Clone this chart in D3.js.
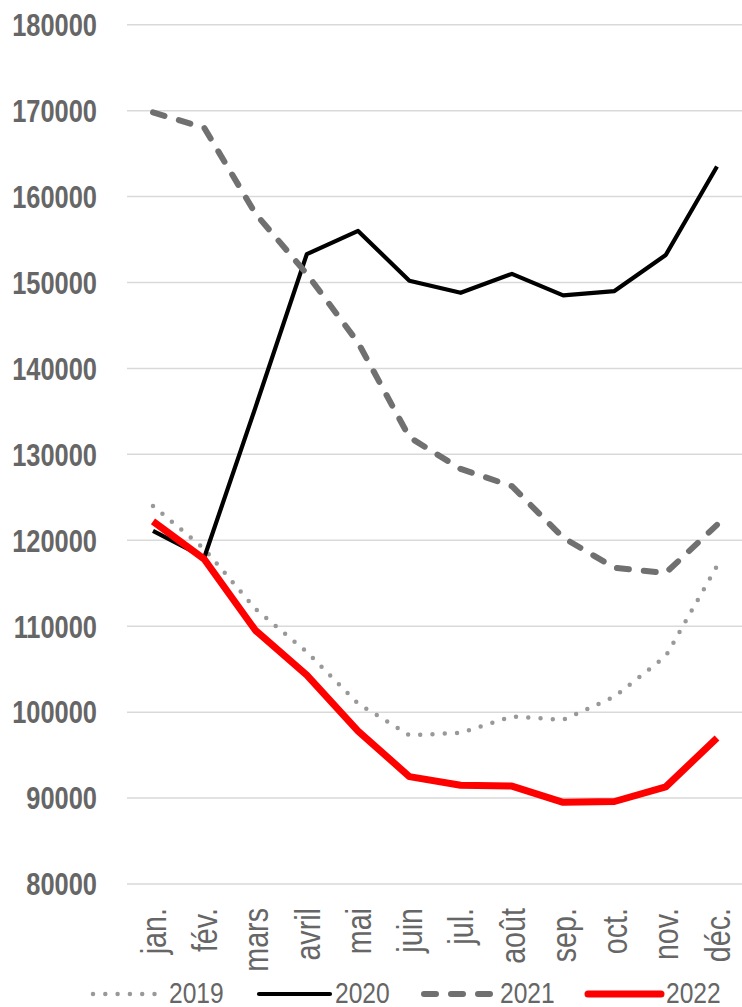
<!DOCTYPE html>
<html><head><meta charset="utf-8">
<script src="https://cdn.jsdelivr.net/npm/d3@7"></script>
<style>
html,body{margin:0;padding:0;background:#fff;}
svg{display:block;}
text{font-family:"Liberation Sans",Arial,sans-serif;}
</style></head>
<body>
<svg id="chart" width="742" height="1007"></svg>
<script>
const months = ["jan.","fév.","mars","avril","mai","juin","jul.","août","sep.","oct.","nov.","déc."];
const yTicks = [80000,90000,100000,110000,120000,130000,140000,150000,160000,170000,180000];
const seriesNames = ["2019","2020","2021","2022"];
const v2019 = [124000,119000,112000,107000,101000,97300,97600,99500,99100,101800,106500,117000];
const v2020 = [121100,118000,135500,153300,156000,150200,148800,151000,148500,149000,153200,163500];
const v2021 = [169800,168000,158000,151000,143000,132000,128300,126300,120300,116800,116200,121800];
const v2022 = [122200,117800,109500,104300,97800,92500,91500,91400,89500,89600,91300,97000];

const styles = {
  "2019": {color:"#999999", width:4.5, dash:"0 12.3", cap:"round"},
  "2020": {color:"#000000", width:4.2, dash:null, cap:"butt"},
  "2021": {color:"#707070", width:6, dash:"12 15", cap:"round"},
  "2022": {color:"#ff0000", width:7, dash:null, cap:"butt"}
};
const data = {"2019":v2019,"2020":v2020,"2021":v2021,"2022":v2022};
const SX = 0.82;

const svg = d3.select("#chart");
const x = d3.scalePoint().domain(months).range([153, 717]);
const y = d3.scaleLinear().domain([80000,180000]).range([884, 24.7]);

// gridlines
svg.append("g").selectAll("line").data(yTicks).join("line")
  .attr("x1",127).attr("x2",742)
  .attr("y1",d=>y(d)).attr("y2",d=>y(d))
  .attr("stroke","#d9d9d9").attr("stroke-width",1.5);

// y axis labels
const yAxis = d3.axisLeft(y).tickValues(yTicks).tickSize(0).tickPadding(0).tickFormat(d3.format("d"));
const gy = svg.append("g").attr("transform","translate(97,0)").call(yAxis);
gy.select(".domain").remove();
gy.selectAll("text").attr("fill","#666666").attr("font-size",31).attr("font-weight","bold")
  .attr("font-family",'"Liberation Sans",Arial,sans-serif')
  .attr("text-anchor","end").attr("x",0).attr("dy","0.35em")
  .attr("transform",`scale(${SX},1)`);

// x axis labels
const xAxis = d3.axisBottom(x).tickSize(0).tickPadding(0);
const gx = svg.append("g").attr("transform","translate(0,908)").call(xAxis);
gx.select(".domain").remove();
gx.selectAll("text").attr("fill","#666666").attr("font-size",35)
  .attr("font-family",'"Liberation Sans",Arial,sans-serif')
  .attr("text-anchor","end").attr("transform",`rotate(-90) scale(${SX},1)`)
  .attr("x",0).attr("y",0).attr("dx",0).attr("dy","0.35em");

// lines
const line = d3.line().x((d,i)=>x(months[i])).y(d=>y(d));
seriesNames.forEach(s=>{
  const st = styles[s];
  svg.append("path").datum(data[s]).attr("d",line)
    .attr("fill","none").attr("stroke",st.color).attr("stroke-width",st.width)
    .attr("stroke-linecap",st.cap).attr("stroke-linejoin","round")
    .attr("stroke-dasharray",st.dash);
});

// legend
const legendItems = [
  {name:"2019", x1:93, x2:158, tx:169},
  {name:"2020", x1:259, x2:330, tx:335},
  {name:"2021", x1:424, x2:495, tx:500},
  {name:"2022", x1:588, x2:661, tx:666}
];
const lg = svg.append("g");
legendItems.forEach(it=>{
  const st = styles[it.name];
  lg.append("line").attr("x1",it.x1).attr("x2",it.x2).attr("y1",994).attr("y2",994)
    .attr("stroke",st.color).attr("stroke-width",st.width)
    .attr("stroke-linecap","round").attr("stroke-dasharray",st.dash);
  lg.append("text").attr("transform",`translate(${it.tx},1003) scale(${SX},1)`).text(it.name)
    .attr("fill","#666666").attr("font-size",30);
});
</script>
</body></html>
